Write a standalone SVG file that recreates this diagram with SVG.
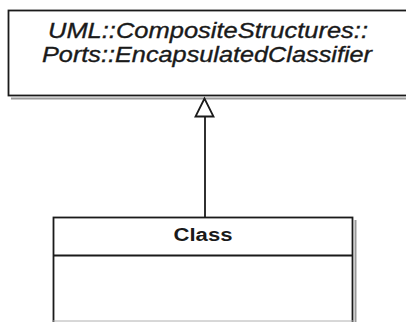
<svg xmlns="http://www.w3.org/2000/svg" width="406" height="322" viewBox="0 0 406 322">
  <style>
    .box { fill: #ffffff; stroke: #1a1a1a; stroke-width: 1.8; }
    .shadow { fill: none; stroke: #9a9a9a; stroke-width: 2; }
    .edge { fill: none; stroke: #1a1a1a; stroke-width: 1.8; }
    .name { font-family: "Liberation Sans", Arial, sans-serif; fill: #1a1a1a; }
    .abstract { font-style: italic; font-size: 22px; stroke: #1a1a1a; stroke-width: 0.35; }
    .cls { font-weight: bold; font-size: 18px; }
  </style>
  <rect width="406" height="322" fill="#ffffff"/>
  <g id="node-encapsulated-classifier">
    <line class="shadow" x1="11" y1="98.5" x2="406" y2="98.5"/>
    <rect class="box" x="8.5" y="10.5" width="410" height="85"/>
    <text class="name abstract" x="208" y="38" text-anchor="middle" textLength="320" lengthAdjust="spacingAndGlyphs">UML::CompositeStructures::</text>
    <text class="name abstract" x="207" y="62" text-anchor="middle" textLength="330" lengthAdjust="spacingAndGlyphs">Ports::EncapsulatedClassifier</text>
  </g>
  <g id="node-class">
    <line class="shadow" x1="355.5" y1="220" x2="355.5" y2="322"/>
    <rect class="box" x="53.5" y="217.5" width="299" height="120"/>
    <line class="edge" x1="53.5" y1="255.5" x2="352.5" y2="255.5"/>
    <line x1="53" y1="321" x2="353" y2="321" stroke="#b0b0b0" stroke-width="1"/>
    <text class="name cls" x="203" y="241" text-anchor="middle" textLength="59" lengthAdjust="spacingAndGlyphs">Class</text>
  </g>
  <g id="connectors">
    <line class="edge" x1="205" y1="116.5" x2="205" y2="217.5"/>
    <polygon class="edge" points="204.5,98.5 195.5,116.5 213.5,116.5" fill="#ffffff"/>
  </g>
</svg>
